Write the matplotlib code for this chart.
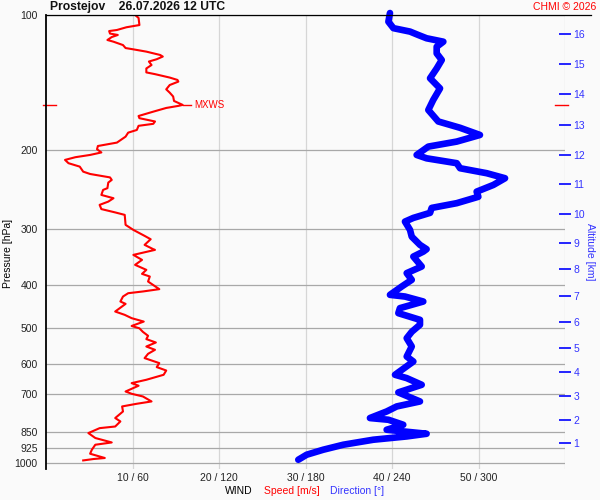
import numpy as np
import matplotlib
matplotlib.use("Agg")
from matplotlib import pyplot as plt
from matplotlib.lines import Line2D
from matplotlib.ticker import NullLocator, FixedLocator, FixedFormatter

plt.rcParams['font.family'] = ['Liberation Sans', 'DejaVu Sans']

# wind speed profile [m/s] vs pressure [hPa]
speed_p = [100, 101.5, 105.3, 106.5, 108, 108.6, 110, 110.8, 112, 113.7, 114.7, 116.7, 118.5,
           119.3, 120.7, 122.8, 123.8, 125.5, 127, 129.3, 131.6, 134.3, 135.5, 137.9, 139.6,
           140.8, 143.3, 146.5, 149, 152, 155.5, 158.7, 159.5, 161.2, 164.3, 168, 169.9, 172.8,
           174.9, 176.7, 180.5, 183, 186.8, 192.6, 196, 199.3, 202.6, 205.2, 207.6, 210.5,
           214.1, 217.9, 223.6, 226.3, 230.3, 233.3, 236.5, 243.4, 245.6, 252, 256.3, 260.8,
           265.2, 271, 275.7, 279.2, 293.9, 301.6, 311, 316.4, 325.7, 333, 334.2, 342.9, 351.8,
           360.9, 370.3, 378, 383.2, 393.2, 408.9, 413.8, 417.5, 424.7, 435.7, 441, 458.7,
           466.6, 474.6, 483, 494, 500, 509.2, 519.6, 528.5, 537.8, 549, 558.4, 570, 582.7,
           597.9, 610.2, 621, 634.8, 651.3, 662.6, 671.5, 691.7, 699.9, 709.6, 728, 736.7,
           746.9, 766.5, 792.8, 806.7, 828, 835, 856.4, 878.4, 898.7, 909.3, 932.9, 952.3,
           973.4, 978.5, 985.6]
speed = [10.3, 10.7, 10.8, 9.3, 8.2, 7.3, 7.4, 8.3, 7.6, 7.1, 7.8, 8.9, 9.2,
         10.1, 11.6, 13.2, 13.5, 12.8, 11.9, 12.2, 11.6, 11.6, 12.6, 14.3, 15.2,
         15.3, 14.3, 13.9, 14.3, 14.7, 14.8, 15.8, 15.3, 13.9, 12.4, 10.7, 10.8, 12.6,
         12.4, 10.7, 10.5, 9.5, 9.2, 8.2, 6.0, 5.9, 6.4, 5.1, 3.4, 2.2,
         2.6, 3.9, 4.3, 5.1, 7.4, 7.6, 7.2, 7.1, 6.6, 6.4, 7.8, 7.2,
         6.2, 6.4, 8.0, 9.1, 9.2, 10.1, 11.4, 12.1, 11.4, 12.4, 12.6, 10.1, 11.1,
         10.3, 11.6, 11.1, 12.0, 11.8, 13.1, 11.2, 9.5, 8.9, 8.6, 9.2, 8.0,
         9.1, 9.9, 11.3, 9.9, 10.8, 11.2, 11.8, 11.6, 12.7, 11.6, 12.6, 11.8, 11.4,
         13.1, 12.8, 13.9, 13.6, 11.6, 9.9, 10.7, 9.2, 9.9, 11.2, 12.2, 10.5,
         8.8, 8.9, 8.0, 8.6, 8.0, 6.2, 4.9, 5.7, 7.6, 5.7, 5.3, 5.1,
         6.8, 5.5, 4.3]

# wind direction profile [deg] vs pressure [hPa]
dir_p = [99, 103.5, 107, 108.9, 110.8, 112.7, 114.7, 117.7, 121.8, 126, 131.6, 138.4, 145.8,
         154.7, 162.9, 172.8, 178.5, 185.2, 191.6, 196.6, 205.2, 208.8, 214.1, 219.7, 225.4,
         231.3, 239.4, 247.8, 254.4, 262.9, 269.4, 276.3, 283.6, 289, 301.6, 312.3, 325.7,
         333, 337.2, 345.9, 364, 376.6, 389.8, 403.5, 421, 424.7, 435.7, 450.8, 462.6,
         478.7, 491, 509, 526, 549, 578, 593, 634.8, 645.8, 668.3, 695, 728, 746.9, 766.5,
         792.8, 799.8, 820.6, 841.9, 859.4, 871.3, 886.2, 909.3, 932.9, 957.2, 982.2]
direction = [238.6, 237.5, 241, 252.5, 258.2, 264, 275.6, 271, 271, 274.5, 271, 266.4, 273.3,
             268.6, 265.2, 272.1, 287.2, 301, 284.9, 265.2, 257.1, 264, 284.9, 287.2, 305.7,
             318.4, 310.3, 298.7, 299.9, 284.9, 267.5, 266.4, 254.8, 249, 252.5, 253.7, 259.4,
             264, 261.7, 254.8, 260.6, 250.2, 253.7, 246.7, 238.6, 249, 261.7, 245.5, 244.4,
             259.4, 259.4, 253.7, 250.2, 253.7, 250.2, 254.8, 242.1, 250.2, 260.6, 244.4, 259.4,
             243.3, 236.3, 224.7, 237.5, 247.8, 236.3, 264, 250.2, 227, 206.2, 192.3, 180.8, 175]

p_ticks = [100, 200, 300, 400, 500, 600, 700, 850, 925, 1000]
x_ticks = [10, 20, 30, 40, 50, 60]
x_labels = ['10 / 60', '20 / 120', '30 / 180', '40 / 240', '50 / 300', '']
alt_km = [1, 2, 3, 4, 5, 6, 7, 8, 9, 10, 11, 12, 13, 14, 15, 16]
alt_p = [900.3, 802.7, 709.7, 625.2, 552.6, 483.6, 423.1, 369.0, 322.4, 277.8, 238.1,
         205.2, 175.6, 150.0, 128.6, 110.2]

bg = '#fafafa'
fig = plt.figure(figsize=(6, 5), dpi=100, facecolor=bg)
ax = fig.add_axes([46/600, 31/500, 519/600, 454/500])
ax.set_facecolor(bg)
ax.set_yscale('log')
axd = ax.twiny()   # direction scale
axa = ax.twinx()   # altitude scale
axa.set_yscale('log')

ax.set_ylim(1030, 100)
axa.set_ylim(1030, 100)
ax.set_xlim(0, 60)
axd.set_xlim(0, 360)

ax.yaxis.set_major_locator(FixedLocator(p_ticks))
ax.yaxis.set_major_formatter(FixedFormatter([str(p) for p in p_ticks]))
ax.yaxis.set_minor_locator(NullLocator())
ax.xaxis.set_major_locator(FixedLocator(x_ticks))
ax.xaxis.set_major_formatter(FixedFormatter(x_labels))
ax.tick_params(axis='both', length=0, labelsize=7.5, colors='#222222')
ax.tick_params(axis='y', pad=6)
ax.tick_params(axis='x', pad=3)
ax.grid(axis='y', color='#a8a8a8', lw=0.9)
ax.grid(axis='x', color='#d6d6d6', lw=0.9)
for s in ['top', 'right', 'bottom']:
    ax.spines[s].set_visible(False)
ax.spines['left'].set_linewidth(1.3)
ax.set_axisbelow(True)

ax.plot(speed, speed_p, color='red', lw=1.5, zorder=3)

# max wind speed marker
i = int(np.argmax(speed))
ax.plot([speed[i], speed[i] + 0.95], [speed_p[i]] * 2, color='red', lw=1)
ax.text(speed[i] + 1.3, speed_p[i], 'MXWS', color='red', fontsize=7, va='center', ha='left')
tr = ax.get_yaxis_transform()
ax.plot([-3/519, 10/519], [speed_p[i]] * 2, color='red', lw=1, transform=tr, clip_on=False)
ax.plot([509/519, 522/519], [speed_p[i]] * 2, color='red', lw=1, transform=tr, clip_on=False)

axd.plot(direction, dir_p, color='#0000ff', lw=4.8, solid_capstyle='round',
         solid_joinstyle='round', clip_on=False)
axd.xaxis.set_visible(False)
for s in axd.spines.values():
    s.set_visible(False)

axa.yaxis.set_major_locator(FixedLocator(alt_p))
axa.yaxis.set_major_formatter(FixedFormatter([str(a) for a in alt_km]))
axa.yaxis.set_minor_locator(NullLocator())
axa.tick_params(axis='y', direction='inout', length=8, width=1.2, color='#0000ff',
                labelcolor='#3333ff', labelsize=7.5, pad=2)
for s in axa.spines.values():
    s.set_visible(False)

fig.add_artist(Line2D([46/600, 591/600], [485/500, 485/500], color='black', lw=0.9))

fig.text(50/600, 1 - 7/500, 'Prostejov    26.07.2026 12 UTC', fontsize=8.7,
         fontweight='bold', va='center', ha='left', color='#111111')
fig.text(596/600, 1 - 7/500, 'CHMI \u00a9 2026', fontsize=7.5, color='red', va='center', ha='right')
fig.text(8/600, 1 - 253/500, 'Pressure [hPa]', rotation=90, fontsize=7.5, va='center', ha='center')
fig.text(590/600, 1 - 252/500, 'Altitude [km]', rotation=-90, fontsize=7.5, color='#3333ff',
         va='center', ha='center')
fig.text(225/600, 1 - 491/500, 'WIND', fontsize=7.5, va='center', ha='left')
fig.text(264/600, 1 - 491/500, 'Speed [m/s]', fontsize=7.5, color='red', va='center', ha='left')
fig.text(330/600, 1 - 491/500, 'Direction [\u00b0]', fontsize=7.5, color='#3333ff', va='center', ha='left')

fig.savefig('out.png', dpi=100, facecolor=bg)
